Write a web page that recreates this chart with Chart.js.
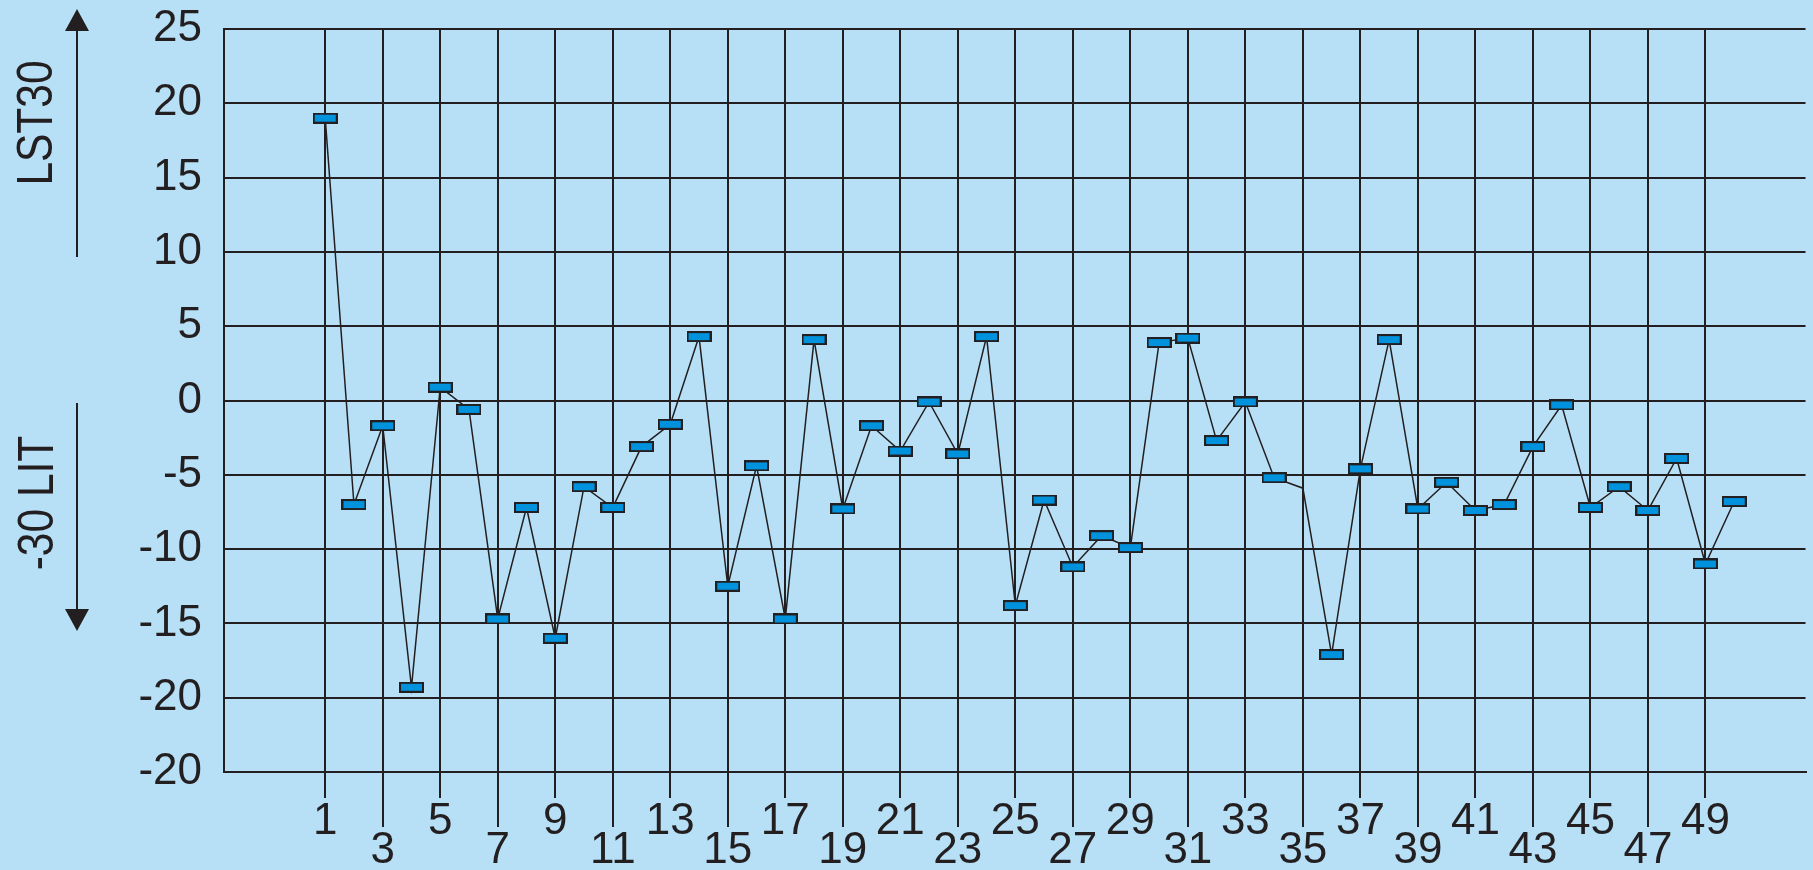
<!DOCTYPE html>
<html>
<head>
<meta charset="utf-8">
<script src="https://cdn.jsdelivr.net/npm/chart.js@4"></script>
<style>
  html, body { margin: 0; padding: 0; background: #b7e0f7; overflow: hidden; }
  canvas { display: block; }
</style>
</head>
<body>
<canvas id="chart" width="1813" height="870"></canvas>
<script>
// sample number on x, deviation on y
const xValues = [1, 2, 3, 4, 5, 6, 7, 8, 9, 10,
  11, 12, 13, 14, 15, 16, 17, 18, 19, 20,
  21, 22, 23, 24, 25, 26, 27, 28, 29, 30,
  31, 32, 33, 34, 35, 36, 37, 38, 39, 40,
  41, 42, 43, 44, 45, 46, 47, 48, 49, 50];
const yValues = [19.0, -7.0, -1.7, -19.3, 0.9, -0.6, -14.7, -7.2, -16.0, -5.8,
  -7.2, -3.1, -1.6, 4.3, -12.5, -4.4, -14.7, 4.1, -7.3, -1.7,
  -3.4, -0.1, -3.6, 4.3, -13.8, -6.7, -11.2, -9.1, -9.9, 3.9,
  4.2, -2.7, -0.1, -5.2, -5.9, -17.1, -4.6, 4.1, -7.3, -5.5,
  -7.4, -7.0, -3.1, -0.3, -7.2, -5.8, -7.4, -3.9, -11.0, -6.8];
const hiddenMarkers = [35];

const xTickValues = [1, 3, 5, 7, 9, 11, 13, 15, 17, 19, 21, 23, 25,
  27, 29, 31, 33, 35, 37, 39, 41, 43, 45, 47, 49];
const xTickLabels = ['1', '3', '5', '7', '9', '11', '13', '15', '17', '19', '21', '23', '25',
  '27', '29', '31', '33', '35', '37', '39', '41', '43', '45', '47', '49'];
const yTickValues = [25, 20, 15, 10, 5, 0, -5, -10, -15, -20, -25];
const yTickLabels = ['25', '20', '15', '10', '5', '0', '-5', '-10', '-15', '-20', '-20'];
const upperCaption = 'LST30';
const lowerCaption = '-30 LIT';

const ink = '#231f20';
const sky = '#b7e0f7';
const fontFamily = '"Liberation Sans", Arial, Helvetica, sans-serif';

// little flat box used as the point marker
const marker = document.createElement('canvas');
marker.width = 25;
marker.height = 11;
const mctx = marker.getContext('2d');
mctx.fillStyle = '#0092dd';
mctx.fillRect(1, 1, 23, 9);
mctx.strokeStyle = ink;
mctx.lineWidth = 2;
mctx.strokeRect(1, 1, 23, 9);

function sideText(ctx, text, cx, cy) {
  ctx.save();
  ctx.translate(cx, cy);
  ctx.rotate(-Math.PI / 2);
  ctx.scale(0.85, 1);
  ctx.font = '50px ' + fontFamily;
  ctx.fillStyle = ink;
  ctx.textAlign = 'center';
  ctx.textBaseline = 'alphabetic';
  ctx.fillText(text, 0, 18);
  ctx.restore();
}

function arrow(ctx, x, from, tip) {
  const dir = Math.sign(tip - from);
  const head = 22;
  ctx.beginPath();
  ctx.moveTo(x, from);
  ctx.lineTo(x, tip - dir * head);
  ctx.stroke();
  ctx.beginPath();
  ctx.moveTo(x, tip);
  ctx.lineTo(x - 12, tip - dir * head);
  ctx.lineTo(x + 12, tip - dir * head);
  ctx.closePath();
  ctx.fill();
}

const backdrop = {
  id: 'backdrop',
  beforeDraw(chart) {
    const ctx = chart.ctx;
    ctx.save();
    ctx.fillStyle = sky;
    ctx.fillRect(0, 0, chart.width, chart.height);
    ctx.restore();
  }
};

const extras = {
  id: 'extras',
  afterDraw(chart) {
    const ctx = chart.ctx;
    const xs = chart.scales.x;
    const bottom = chart.chartArea.bottom;
    ctx.save();
    ctx.strokeStyle = ink;
    ctx.fillStyle = ink;
    ctx.lineWidth = 2;
    // staggered tick marks under the plot
    xTickValues.forEach((v, i) => {
      const px = Math.round(xs.getPixelForValue(v));
      ctx.beginPath();
      ctx.moveTo(px, bottom);
      ctx.lineTo(px, bottom + (i % 2 ? 55 : 26));
      ctx.stroke();
    });
    arrow(ctx, 77, 257, 9);
    arrow(ctx, 77, 403, 631);
    ctx.restore();
    sideText(ctx, upperCaption, 34, 123);
    sideText(ctx, lowerCaption, 35, 503);
  }
};

new Chart(document.getElementById('chart'), {
  type: 'line',
  data: {
    datasets: [{
      data: xValues.map((x, i) => ({ x: x, y: yValues[i] })),
      borderColor: ink,
      borderWidth: 1.5,
      tension: 0,
      fill: false,
      pointStyle: marker,
      pointRadius: c => (c.raw && hiddenMarkers.includes(c.raw.x)) ? 0 : 6,
      pointHoverRadius: c => (c.raw && hiddenMarkers.includes(c.raw.x)) ? 0 : 6
    }]
  },
  options: {
    responsive: false,
    animation: false,
    events: [],
    layout: { padding: { top: 29, left: 0, right: 0, bottom: 0 } },
    plugins: {
      legend: { display: false },
      tooltip: { enabled: false }
    },
    scales: {
      x: {
        type: 'linear',
        min: -2.52,
        max: 52.48,
        afterBuildTicks: s => { s.ticks = xTickValues.map(v => ({ value: v })); },
        afterFit: s => { s.height = 98; s.paddingLeft = 0; s.paddingRight = 0; },
        grid: { color: ink, lineWidth: 2, drawTicks: false },
        border: { display: true, color: ink, width: 2 },
        ticks: {
          padding: 35,
          autoSkip: false,
          maxRotation: 0,
          color: ink,
          font: { family: fontFamily, size: 44, lineHeight: '29px' },
          callback: (v, i) => i % 2 ? ['', xTickLabels[i]] : xTickLabels[i]
        }
      },
      y: {
        min: -25,
        max: 25,
        afterBuildTicks: s => { s.ticks = yTickValues.map(v => ({ value: v })); },
        afterFit: s => { s.width = 224; s.paddingTop = 0; s.paddingBottom = 0; },
        grid: { color: ink, lineWidth: 2, drawTicks: false },
        border: { display: true, color: ink, width: 2 },
        ticks: {
          padding: 22,
          color: ink,
          font: { family: fontFamily, size: 44 },
          callback: (v, i) => yTickLabels[i]
        }
      }
    }
  },
  plugins: [backdrop, extras]
});
</script>
</body>
</html>
